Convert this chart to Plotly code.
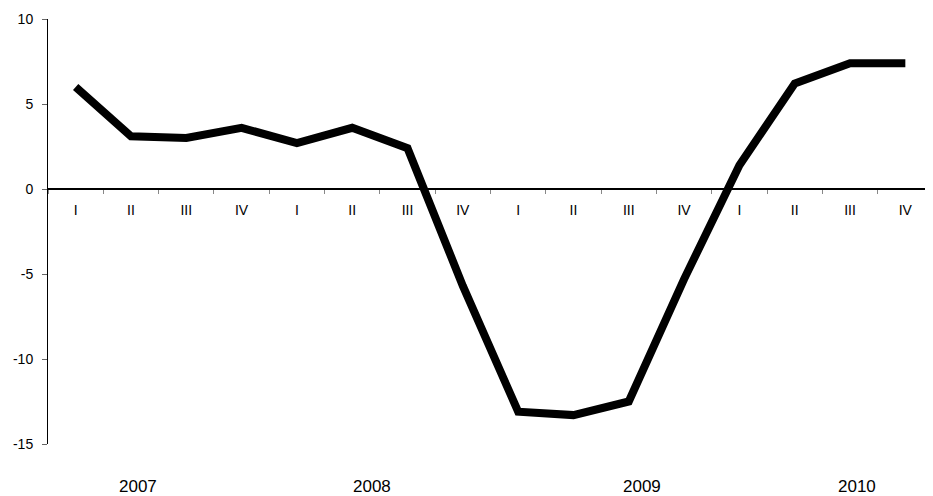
import plotly.graph_objects as go

quarters = ["I", "II", "III", "IV"] * 4
years = ["2007", "2008", "2009", "2010"]
values = [6.0, 3.1, 3.0, 3.6, 2.7, 3.6, 2.4, -5.7, -13.1, -13.3, -12.5, -5.3, 1.4, 6.2, 7.4, 7.4]
y_ticks = [-15, -10, -5, 0, 5, 10]
y_tick_text = ["-15", "-10", "-5", "0", "5", "10"]

x = list(range(len(values)))
year_pos = [1.12, 5.35, 10.24, 14.12]

FONT = "Liberation Sans, Arial, sans-serif"

fig = go.Figure()
fig.add_trace(go.Scatter(
    x=x, y=values, mode="lines",
    line=dict(color="black", width=8),
    hoverinfo="skip", showlegend=False,
))

for yr, xp in zip(years, year_pos):
    fig.add_annotation(x=xp, y=0, xref="x", yref="paper", text=yr,
                       showarrow=False, yanchor="middle", yshift=-42,
                       font=dict(family=FONT, size=17, color="black"))

# page body has an 8px default margin: size/margins compensate for it
fig.update_layout(
    width=925, height=488,
    margin=dict(l=40, r=0, t=11, b=52),
    paper_bgcolor="white", plot_bgcolor="white",
    font=dict(family=FONT, size=14, color="black"),
    xaxis=dict(
        range=[-0.5, len(values) - 0.5],
        tickvals=x, ticktext=quarters,
        ticks="", showgrid=False, zeroline=False,
        showline=True, linecolor="black", linewidth=1.5,
        anchor="free", position=0.6,
        ticklabelstandoff=8, automargin=False,
        minor=dict(tickvals=[i + 0.5 for i in range(-1, len(values))],
                   ticks="outside", ticklen=4, tickcolor="#888", tickwidth=1,
                   showgrid=False),
        tickfont=dict(family=FONT, size=14),
    ),
    yaxis=dict(
        range=[-15, 10], tickvals=y_ticks, ticktext=y_tick_text,
        ticks="outside", ticklen=5, tickcolor="#666",
        showgrid=False, zeroline=False,
        showline=True, linecolor="black", linewidth=1,
        ticklabelstandoff=6, automargin=False,
        tickfont=dict(family=FONT, size=14),
    ),
)

fig.write_html("out.html")
